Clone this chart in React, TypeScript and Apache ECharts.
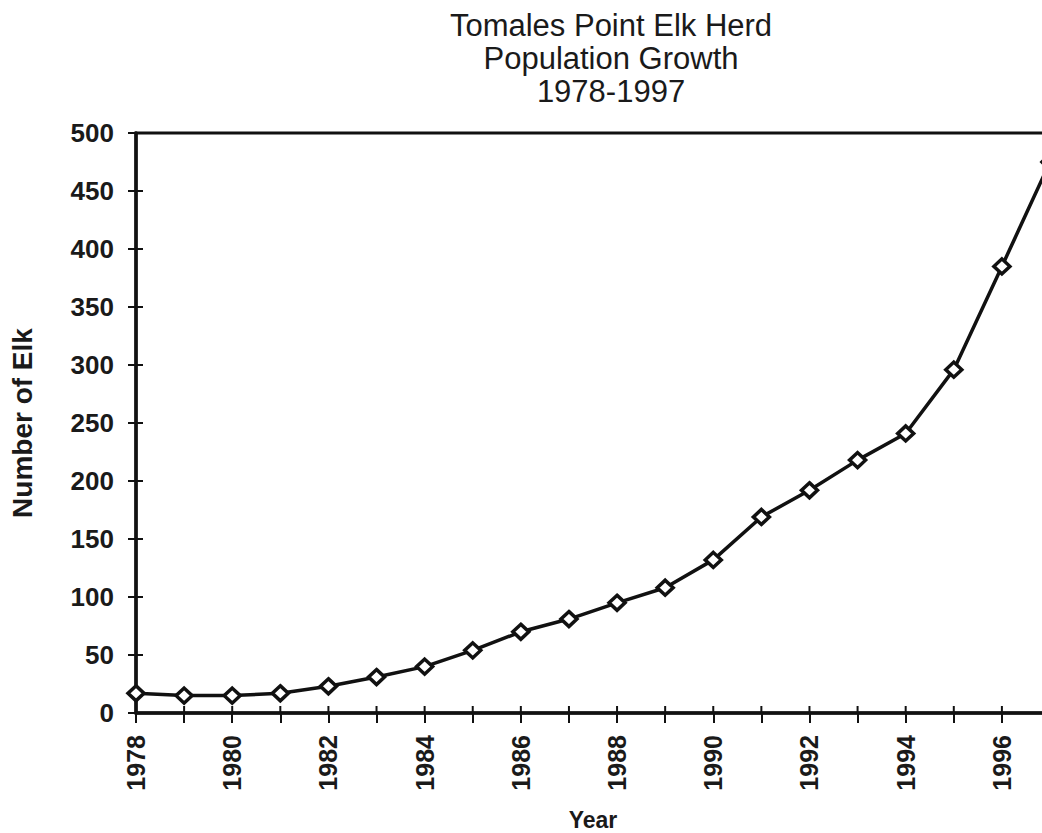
import React, { useEffect, useRef } from "react";
import * as echarts from "echarts";

const years = [
  "1978", "1979", "1980", "1981", "1982", "1983", "1984", "1985", "1986", "1987",
  "1988", "1989", "1990", "1991", "1992", "1993", "1994", "1995", "1996", "1997",
];
const elkCounts = [17, 15, 15, 17, 23, 31, 40, 54, 70, 81, 95, 108, 132, 169, 192, 218, 241, 296, 385, 475];
const titleLines = ["Tomales Point Elk Herd", "Population Growth", "1978-1997"];
const xAxisName = "Year";
const yAxisName = "Number of Elk";
const yMin = 0;
const yMax = 500;
const yStep = 50;
const yTickValues = [0, 50, 100, 150, 200, 250, 300, 350, 400, 450, 500];

const FONT = '"Liberation Sans", Arial, sans-serif';
const INNER_TICK = 7;

export default function App() {
  const ref = useRef<HTMLDivElement>(null);
  useEffect(() => {
    if (!ref.current) return;
    const chart = echarts.init(ref.current, null, { renderer: "svg" });
    const axisLineStyle = { show: true, lineStyle: { color: "#111", width: 3.5 } };
    chart.setOption({
      animation: false,
      backgroundColor: "#ffffff",
      title: {
        text: titleLines.join("\n"),
        left: 606,
        top: 4,
        textAlign: "center",
        textStyle: { fontFamily: FONT, fontSize: 31, fontWeight: "normal", lineHeight: 33, color: "#1a1a1a" },
      },
      grid: {
        left: 136,
        top: 133,
        width: 914,
        height: 580,
        outerBoundsMode: "none",
        show: true,
        borderColor: "#111",
        borderWidth: 3,
        backgroundColor: "transparent",
      },
      xAxis: {
        type: "category",
        data: years,
        boundaryGap: false,
        name: xAxisName,
        nameLocation: "middle",
        nameGap: 95,
        nameTextStyle: { fontFamily: FONT, fontSize: 23, fontWeight: "bold", color: "#1a1a1a" },
        axisLine: axisLineStyle,
        axisTick: { show: true, interval: 0, length: 10, lineStyle: { color: "#111", width: 2 } },
        axisLabel: { interval: 1, rotate: 90, margin: 22, fontFamily: FONT, fontSize: 25, fontWeight: "bold", color: "#1a1a1a" },
      },
      yAxis: {
        type: "value",
        min: yMin,
        max: yMax,
        interval: yStep,
        name: yAxisName,
        nameLocation: "middle",
        nameRotate: 90,
        nameGap: 100,
        nameTextStyle: { fontFamily: FONT, fontSize: 28, fontWeight: "bold", color: "#1a1a1a" },
        splitLine: { show: false },
        axisLine: axisLineStyle,
        axisTick: { show: true, length: 8, lineStyle: { color: "#111", width: 2 } },
        axisLabel: { margin: 22, fontFamily: FONT, fontSize: 26, fontWeight: "bold", color: "#1a1a1a" },
      },
      series: [
        {
          type: "custom",
          silent: true,
          clip: false,
          z: 3,
          data: years.map((y) => [y, yMin]),
          renderItem: (params: any, api: any) => {
            const p = api.coord([api.value(0), api.value(1)]);
            return {
              type: "line",
              shape: { x1: p[0], y1: p[1] - INNER_TICK, x2: p[0], y2: p[1] },
              style: { stroke: "#111", lineWidth: 2 },
            };
          },
        },
        {
          type: "custom",
          silent: true,
          clip: false,
          z: 3,
          data: yTickValues.map((v) => [years[0], v]),
          renderItem: (params: any, api: any) => {
            const p = api.coord([api.value(0), api.value(1)]);
            return {
              type: "line",
              shape: { x1: p[0], y1: p[1], x2: p[0] + INNER_TICK, y2: p[1] },
              style: { stroke: "#111", lineWidth: 2 },
            };
          },
        },
        {
          type: "line",
          data: elkCounts,
          symbol: "diamond",
          symbolSize: [16, 15],
          lineStyle: { color: "#111", width: 3.5 },
          itemStyle: { color: "#ffffff", borderColor: "#111", borderWidth: 3.5 },
          clip: false,
          z: 5,
        },
      ],
    });
    return () => chart.dispose();
  }, []);
  return (
    <div style={{ position: "fixed", left: 0, top: 0, width: 1042, height: 833, overflow: "hidden", background: "#fff" }}>
      <div ref={ref} style={{ width: 1100, height: 833 }} />
    </div>
  );
}
